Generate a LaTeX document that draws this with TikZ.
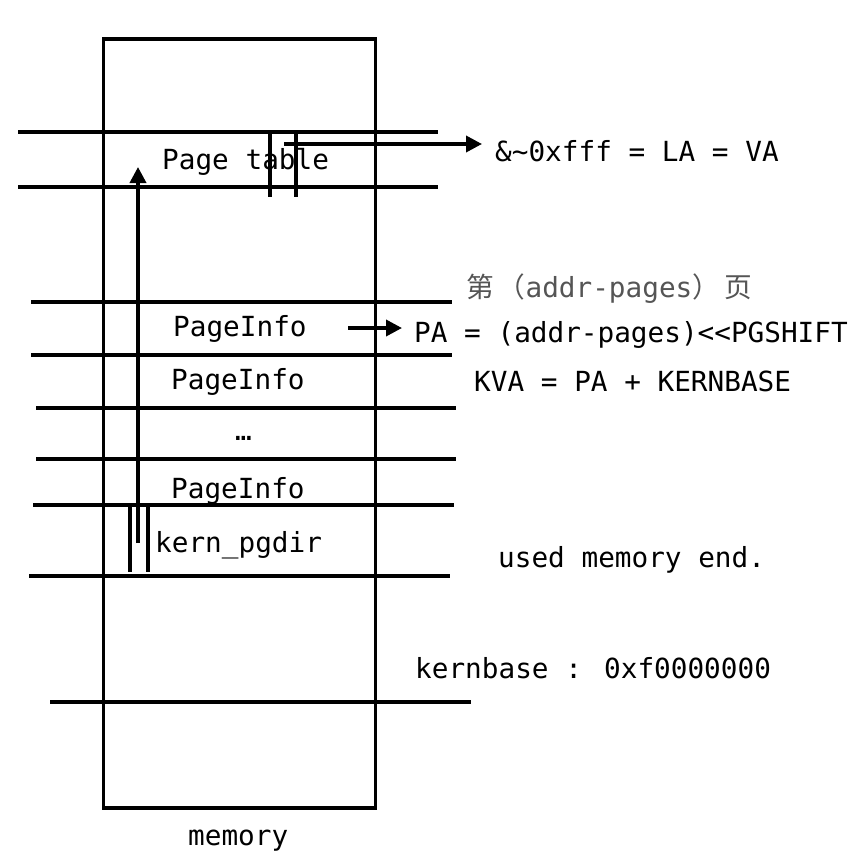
\documentclass[tikz,border=0pt]{standalone}
\usepackage{fontspec}
\setmainfont{DejaVu Sans Mono}
\newfontfamily\cjk{Noto Sans CJK SC}
\usetikzlibrary{arrows.meta}
\definecolor{greytext}{HTML}{555555}
\begin{document}
\begin{tikzpicture}[x=1pt,y=-1pt,
  sep/.style={line width=3.6pt},
  arr/.style={line width=3.6pt,-{Triangle[length=16pt,width=16pt]}},
  lbl/.style={inner sep=0pt,anchor=base west,font=\fontsize{27.7}{33}\selectfont}]
\useasboundingbox (0,0) rectangle (864,856);
% memory box
\draw[sep] (103.5,39) rectangle (375.5,808);
% separators
\draw[sep] (18,132) -- (438,132);
\draw[sep] (18,187) -- (438,187);
\draw[sep] (31,302) -- (452,302);
\draw[sep] (31,355) -- (452,355);
\draw[sep] (36,408) -- (456,408);
\draw[sep] (36,459) -- (456,459);
\draw[sep] (33,505) -- (454,505);
\draw[sep] (29,576) -- (450,576);
\draw[sep] (50,702) -- (471,702);
% bars
\draw[sep] (270,132) -- (270,197);
\draw[sep] (296,132) -- (296,197);
\draw[sep] (130,505) -- (130,572);
\draw[sep] (148,505) -- (148,572);
% labels
\node[lbl] (pt) at (162,169) {Page table};
\node[lbl] (va) at (495,161) {\&\textasciitilde0xfff = LA = VA};
\node[lbl,text=greytext] (nth) at (466,297) {{\cjk 第\hspace{4pt}（}addr-pages{\cjk ）\hspace{4pt}页}};
\node[lbl] (pa) at (414,342) {PA = (addr-pages){<}{<}PGSHIFT};
\node[lbl] (kva) at (474,391) {KVA = PA + KERNBASE};
\node[lbl] (pi1) at (173,336) {PageInfo};
\node[lbl] (pi2) at (171,389) {PageInfo};
\node[lbl] (dots) at (235,440) {…};
\node[lbl] (pi3) at (171,498) {PageInfo};
\node[lbl] (kp) at (155,552) {kern\_pgdir};
\node[lbl] (ume) at (498,567) {used memory end.};
\node[lbl] (kb) at (415,678) {kernbase : 0xf0000000};
\node[lbl] (mem) at (188,845) {memory};
% arrows
\coordinate (up0) at (138,543);
\coordinate (up1) at (138,167);
\draw[arr] (up0) -- (up1);
\coordinate (r0) at (284,144);
\coordinate (r1) at (482,144);
\draw[arr] (r0) -- (r1);
\coordinate (p0) at (348,328);
\coordinate (p1) at (402,328);
\draw[arr] (p0) -- (p1);
\end{tikzpicture}
\end{document}
